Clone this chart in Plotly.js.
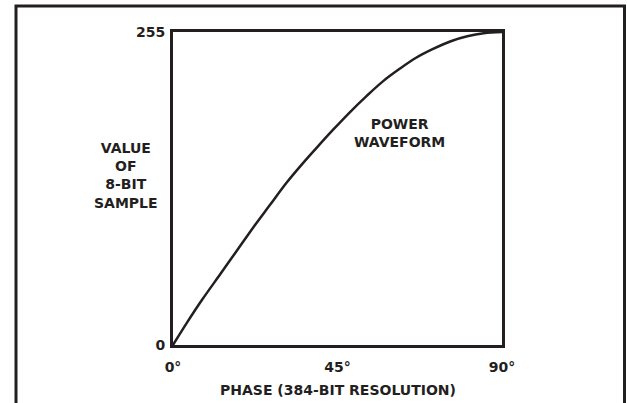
<!DOCTYPE html>
<html>
<head>
<meta charset="utf-8">
<script src="https://cdn.plot.ly/plotly-3.0.1.min.js"></script>
<style>
  html, body { margin: 0; padding: 0; background: #ffffff; }
  #chart { width: 627px; height: 403px; }
</style>
</head>
<body>
<div id="chart"></div>
<script>
// Phase in degrees (x) and 8-bit sample value (y)
const phaseDeg = [0, 4, 8, 13, 17.5, 22, 26.5, 31, 35.5, 40, 44, 48.5, 53, 57.5, 62, 66.5, 71, 76, 80.5, 85, 90];
const sampleValue = [0, 19, 37, 58, 77, 96, 114, 132, 148, 163, 176, 190, 203, 215, 225, 234, 241, 247.5, 251.5, 254, 255];

const xTickVals = [0, 45, 90];
const xTickText = ['0°', '45°', '90°'];
const yTickVals = [0, 255];
const yTickText = ['0', '255'];

const curveLabel = 'POWER<br>WAVEFORM';
const yLabel = 'VALUE<br>OF<br>8-BIT<br>SAMPLE';
const xLabel = 'PHASE (384-BIT RESOLUTION)';

const ink = '#231f20';
const font = { family: 'DejaVu Sans', size: 14, color: ink, weight: 'bold' };

const trace = {
  x: phaseDeg,
  y: sampleValue,
  type: 'scatter',
  mode: 'lines',
  line: { color: ink, width: 2.5, shape: 'spline', smoothing: 1 },
  hoverinfo: 'skip',
  showlegend: false
};

const layout = {
  width: 627,
  height: 403,
  margin: { l: 173, r: 125, t: 32, b: 58, pad: 0 },
  paper_bgcolor: '#ffffff',
  plot_bgcolor: '#ffffff',
  showlegend: false,
  font: font,
  xaxis: {
    range: [0, 90],
    tickvals: xTickVals,
    ticktext: xTickText,
    ticks: '',
    showgrid: false,
    zeroline: false,
    showline: true,
    mirror: true,
    linewidth: 3,
    linecolor: ink,
    tickfont: font,
    ticklabelstandoff: 7,
    fixedrange: true
  },
  yaxis: {
    range: [0, 255],
    tickvals: yTickVals,
    ticktext: yTickText,
    ticks: '',
    showgrid: false,
    zeroline: false,
    showline: true,
    mirror: true,
    linewidth: 3,
    linecolor: ink,
    tickfont: font,
    ticklabelstandoff: 2,
    fixedrange: true
  },
  annotations: [
    { text: curveLabel, x: 62, y: 173, xref: 'x', yref: 'y', showarrow: false,
      xanchor: 'center', yanchor: 'middle', align: 'center', font: font },
    { text: yLabel, x: (126 - 173) / 329, y: (345 - 175.5) / 313, xref: 'paper', yref: 'paper',
      showarrow: false, xanchor: 'center', yanchor: 'middle', align: 'center', font: font },
    { text: xLabel, x: 0.5, y: (345 - 390) / 313, xref: 'paper', yref: 'paper',
      showarrow: false, xanchor: 'center', yanchor: 'middle', align: 'center', font: font }
  ],
  shapes: [
    { type: 'rect', xref: 'paper', yref: 'paper',
      x0: (16 - 173) / 329, x1: (624.5 - 173) / 329,
      y0: (345 - 410) / 313, y1: (345 - 6) / 313,
      line: { color: ink, width: 3 }, fillcolor: 'rgba(0,0,0,0)', layer: 'above' }
  ]
};

Plotly.newPlot('chart', [trace], layout, { staticPlot: true, displayModeBar: false });
</script>
</body>
</html>
